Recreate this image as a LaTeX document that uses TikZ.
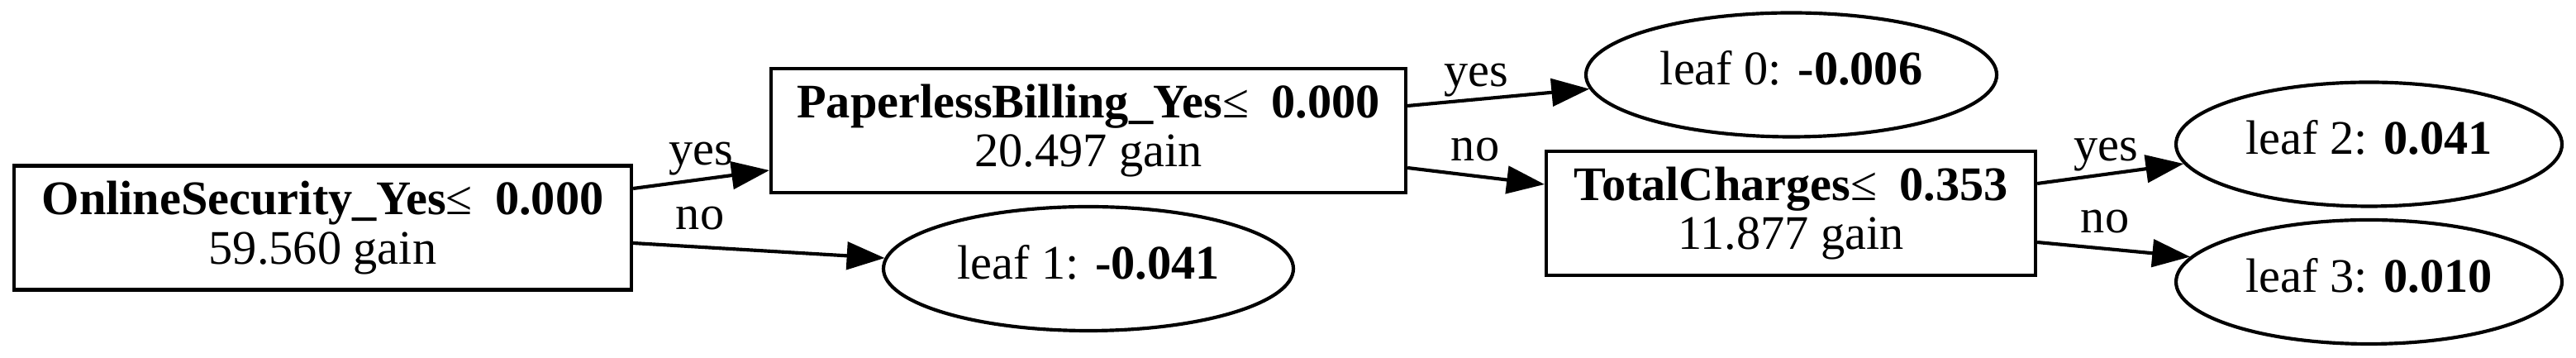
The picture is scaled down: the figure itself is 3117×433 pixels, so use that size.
\documentclass[tikz,border=0pt]{standalone}
\usepackage{fontspec}
\setmainfont{Liberation Serif}
\usetikzlibrary{shapes.geometric,arrows.meta}
\newcommand\leaftxt[1]{\makebox[0pt]{\rule[-4pt]{0pt}{13.8pt}#1}}
\newcommand\leqsep{≤\hspace{6.5pt}}
\tikzset{
  splitbox/.style={draw, line width=1pt, rectangle, inner sep=0pt, align=center, minimum height=36pt},
  leafnode/.style={draw, line width=1pt, ellipse, inner sep=0pt, minimum height=36pt},
  edgearrow/.style={line width=1pt, -{Triangle[length=11pt,width=8pt]}},
  elabel/.style={anchor=base, inner sep=0pt},
}
\begin{document}
\begin{tikzpicture}[x=0.24pt, y=-0.24pt, every node/.style={font=\fontsize{14}{14.2}\selectfont}]
\useasboundingbox (0,0) rectangle (3117,433);
% split nodes
\node[splitbox, minimum width=179.28pt] (b1) at (390.5,275.5) {\textbf{OnlineSecurity\_Yes}\leqsep\textbf{0.000}\\59.560 gain};
\node[splitbox, minimum width=184.32pt] (b2) at (1317,158) {\textbf{PaperlessBilling\_Yes}\leqsep\textbf{0.000}\\20.497 gain};
\node[splitbox, minimum width=142.08pt] (b3) at (2167,258) {\textbf{TotalCharges}\leqsep\textbf{0.353}\\11.877 gain};
% leaves
\node[leafnode, minimum width=119.28pt] (leaf0) at (2167.5,90.5) {\leaftxt{leaf 0: \textbf{-0.006}}};
\node[leafnode, minimum width=119.04pt] (leaf1) at (1317,325) {\leaftxt{leaf 1: \textbf{-0.041}}};
\node[leafnode, minimum width=112.08pt] (leaf2) at (2866.5,174.5) {\leaftxt{leaf 2: \textbf{0.041}}};
\node[leafnode, minimum width=112.08pt] (leaf3) at (2866.5,341) {\leaftxt{leaf 3: \textbf{0.010}}};
% edges
\draw[edgearrow] ([yshift=11.4pt]b1.east) -- ([yshift=-11.52pt]b2.west);
\draw[edgearrow] ([yshift=-4.44pt]b1.east) -- (leaf1.177.2);
\draw[edgearrow] ([yshift=7.2pt]b2.east) -- (leaf0.184.45);
\draw[edgearrow] ([yshift=-10.8pt]b2.east) -- ([yshift=8.4pt]b3.west);
\draw[edgearrow] ([yshift=8.64pt]b3.east) -- (leaf2.186.46);
\draw[edgearrow] ([yshift=-8.4pt]b3.east) -- (leaf3.172.96);
% edge labels
\node[elabel] (l1y) at (848,200) {yes};
\node[elabel] (l1n) at (847,278) {no};
\node[elabel] (l2y) at (1786,105) {yes};
\node[elabel] (l2n) at (1785,195) {no};
\node[elabel] (l3y) at (2548,195) {yes};
\node[elabel] (l3n) at (2547,282) {no};
\end{tikzpicture}
\end{document}
